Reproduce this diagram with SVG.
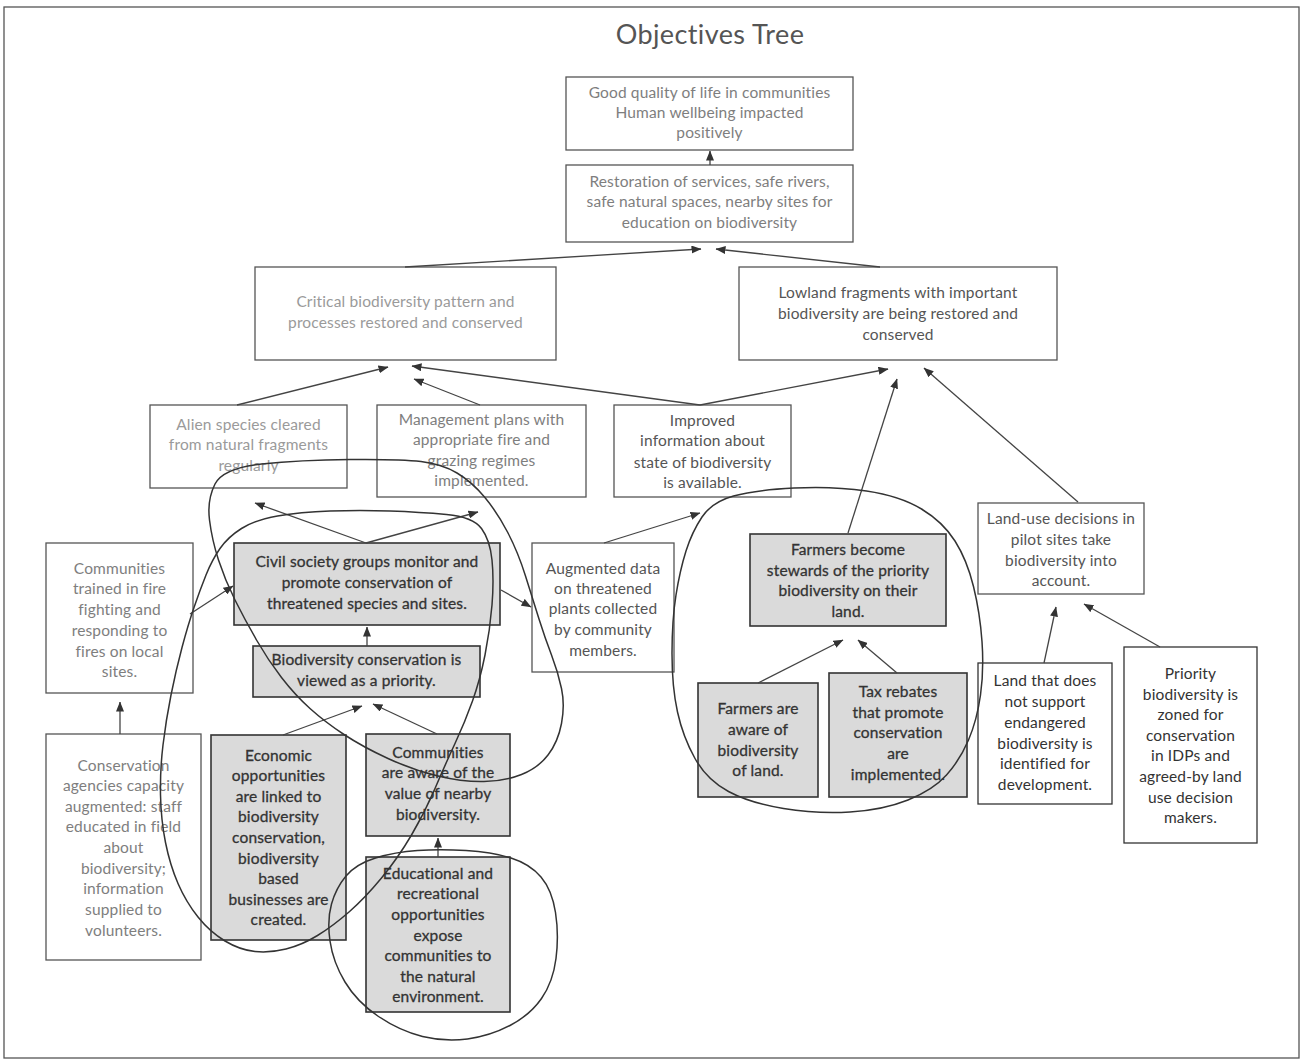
<svg xmlns="http://www.w3.org/2000/svg" width="1305" height="1063" viewBox="0 0 1305 1063">
  <style>
    text { font-family: Lato, "Liberation Sans", sans-serif; font-size: 15.5px; letter-spacing: 0.15px; text-anchor: middle; }
    .title { font-size: 27px; letter-spacing: 0.4px; fill: #555; }
    .box { fill: #fff; stroke: #555; stroke-width: 1.3; }
    .hl { fill: #dadada; stroke: #333; stroke-width: 1.6; }
    .t1 { fill: #9a9a9a; }
    .t2 { fill: #7e7e7e; }
    .t3 { fill: #555; }
    .t4 { fill: #333; stroke: #333; stroke-width: 0.3; }
    .edge { stroke: #444; stroke-width: 1.3; fill: none; marker-end: url(#ah); }
    .loop { stroke: #333; stroke-width: 1.5; fill: none; }
  </style>
  <defs>
    <marker id="ah" markerWidth="10" markerHeight="8" refX="9.5" refY="4" orient="auto" markerUnits="userSpaceOnUse">
      <path d="M0,0 L10,4 L0,8 z" fill="#333"/>
    </marker>
  </defs>

  <rect x="0" y="0" width="1305" height="1063" fill="#fff"/>
  <rect x="4" y="7" width="1295" height="1051" fill="none" stroke="#555" stroke-width="1.3"/>

  <text class="title" x="710" y="44">Objectives Tree</text>

  <g id="node-quality-of-life">
    <rect class="box" x="566" y="77" width="287" height="73"/>
    <text class="t2"><tspan x="709.5" y="98">Good quality of life in communities</tspan><tspan x="709.5" y="118">Human wellbeing impacted</tspan><tspan x="709.5" y="138">positively</tspan></text>
  </g>
  <g id="node-restoration">
    <rect class="box" x="566" y="165" width="287" height="77"/>
    <text class="t2"><tspan x="709.5" y="187">Restoration of services, safe rivers,</tspan><tspan x="709.5" y="207">safe natural spaces, nearby sites for</tspan><tspan x="709.5" y="228">education on biodiversity</tspan></text>
  </g>
  <g id="node-critical-biodiversity">
    <rect class="box" x="255" y="267" width="301" height="93"/>
    <text class="t1"><tspan x="405.5" y="307">Critical biodiversity pattern and</tspan><tspan x="405.5" y="328">processes restored and conserved</tspan></text>
  </g>
  <g id="node-lowland-fragments">
    <rect class="box" x="739" y="267" width="318" height="93"/>
    <text class="t3"><tspan x="898" y="298">Lowland fragments with important</tspan><tspan x="898" y="319">biodiversity are being restored and</tspan><tspan x="898" y="340">conserved</tspan></text>
  </g>
  <g id="node-alien-species">
    <rect class="box" x="150" y="405" width="197" height="83"/>
    <text class="t1"><tspan x="248.5" y="430">Alien species cleared</tspan><tspan x="248.5" y="450">from natural fragments</tspan><tspan x="248.5" y="471">regularly</tspan></text>
  </g>
  <g id="node-management-plans">
    <rect class="box" x="377" y="405" width="209" height="92"/>
    <text class="t2"><tspan x="481.5" y="425">Management plans with</tspan><tspan x="481.5" y="445">appropriate fire and</tspan><tspan x="481.5" y="466">grazing regimes</tspan><tspan x="481.5" y="486">implemented.</tspan></text>
  </g>
  <g id="node-improved-information">
    <rect class="box" x="614" y="405" width="177" height="92"/>
    <text class="t3"><tspan x="702.5" y="426">Improved</tspan><tspan x="702.5" y="446">information about</tspan><tspan x="702.5" y="468">state of biodiversity</tspan><tspan x="702.5" y="488">is available.</tspan></text>
  </g>
  <g id="node-fire-training">
    <rect class="box" x="46" y="543" width="147" height="150"/>
    <text class="t2"><tspan x="119.5" y="574">Communities</tspan><tspan x="119.5" y="594">trained in fire</tspan><tspan x="119.5" y="615">fighting and</tspan><tspan x="119.5" y="636">responding to</tspan><tspan x="119.5" y="657">fires on local</tspan><tspan x="119.5" y="677">sites.</tspan></text>
  </g>
  <g id="node-civil-society">
    <rect class="hl" x="234" y="543" width="266" height="82"/>
    <text class="t4"><tspan x="367" y="567">Civil society groups monitor and</tspan><tspan x="367" y="588">promote conservation of</tspan><tspan x="367" y="609">threatened species and sites.</tspan></text>
  </g>
  <g id="node-priority">
    <rect class="hl" x="253" y="646" width="227" height="51"/>
    <text class="t4"><tspan x="366.5" y="665">Biodiversity conservation is</tspan><tspan x="366.5" y="686">viewed as a priority.</tspan></text>
  </g>
  <g id="node-augmented-data">
    <rect class="box" x="532" y="543" width="142" height="129"/>
    <text class="t3"><tspan x="603" y="574">Augmented data</tspan><tspan x="603" y="594">on threatened</tspan><tspan x="603" y="614">plants collected</tspan><tspan x="603" y="635">by community</tspan><tspan x="603" y="656">members.</tspan></text>
  </g>
  <g id="node-farmer-stewards">
    <rect class="hl" x="750" y="534" width="196" height="92"/>
    <text class="t4"><tspan x="848" y="555">Farmers become</tspan><tspan x="848" y="576">stewards of the priority</tspan><tspan x="848" y="596">biodiversity on their</tspan><tspan x="848" y="617">land.</tspan></text>
  </g>
  <g id="node-land-use-decisions">
    <rect class="box" x="978" y="503" width="166" height="91"/>
    <text class="t3"><tspan x="1061" y="524">Land-use decisions in</tspan><tspan x="1061" y="545">pilot sites take</tspan><tspan x="1061" y="566">biodiversity into</tspan><tspan x="1061" y="586">account.</tspan></text>
  </g>
  <g id="node-agency-capacity">
    <rect class="box" x="46" y="734" width="155" height="226"/>
    <text class="t2"><tspan x="123.5" y="771">Conservation</tspan><tspan x="123.5" y="791">agencies capacity</tspan><tspan x="123.5" y="812">augmented: staff</tspan><tspan x="123.5" y="832">educated in field</tspan><tspan x="123.5" y="853">about</tspan><tspan x="123.5" y="874">biodiversity;</tspan><tspan x="123.5" y="894">information</tspan><tspan x="123.5" y="915">supplied to</tspan><tspan x="123.5" y="936">volunteers.</tspan></text>
  </g>
  <g id="node-economic-opportunities">
    <rect class="hl" x="211" y="735" width="135" height="205"/>
    <text class="t4"><tspan x="278.5" y="761">Economic</tspan><tspan x="278.5" y="781">opportunities</tspan><tspan x="278.5" y="802">are linked to</tspan><tspan x="278.5" y="822">biodiversity</tspan><tspan x="278.5" y="843">conservation,</tspan><tspan x="278.5" y="864">biodiversity</tspan><tspan x="278.5" y="884">based</tspan><tspan x="278.5" y="905">businesses are</tspan><tspan x="278.5" y="925">created.</tspan></text>
  </g>
  <g id="node-community-awareness">
    <rect class="hl" x="366" y="734" width="144" height="102"/>
    <text class="t4"><tspan x="438" y="758">Communities</tspan><tspan x="438" y="778">are aware of the</tspan><tspan x="438" y="799">value of nearby</tspan><tspan x="438" y="820">biodiversity.</tspan></text>
  </g>
  <g id="node-education">
    <rect class="hl" x="366" y="857" width="144" height="155"/>
    <text class="t4"><tspan x="438" y="879">Educational and</tspan><tspan x="438" y="899">recreational</tspan><tspan x="438" y="920">opportunities</tspan><tspan x="438" y="941">expose</tspan><tspan x="438" y="961">communities to</tspan><tspan x="438" y="982">the natural</tspan><tspan x="438" y="1002">environment.</tspan></text>
  </g>
  <g id="node-farmer-awareness">
    <rect class="hl" x="698" y="683" width="120" height="114"/>
    <text class="t4"><tspan x="758" y="714">Farmers are</tspan><tspan x="758" y="735">aware of</tspan><tspan x="758" y="756">biodiversity</tspan><tspan x="758" y="776">of land.</tspan></text>
  </g>
  <g id="node-tax-rebates">
    <rect class="hl" x="829" y="673" width="138" height="124"/>
    <text class="t4"><tspan x="898" y="697">Tax rebates</tspan><tspan x="898" y="718">that promote</tspan><tspan x="898" y="738">conservation</tspan><tspan x="898" y="759">are</tspan><tspan x="898" y="780">implemented.</tspan></text>
  </g>
  <g id="node-development-land">
    <rect class="box" x="978" y="663" width="134" height="141" style="stroke:#333"/>
    <text class="t4" style="stroke:none"><tspan x="1045" y="686">Land that does</tspan><tspan x="1045" y="707">not support</tspan><tspan x="1045" y="728">endangered</tspan><tspan x="1045" y="749">biodiversity is</tspan><tspan x="1045" y="769">identified for</tspan><tspan x="1045" y="790">development.</tspan></text>
  </g>
  <g id="node-zoning">
    <rect class="box" x="1124" y="647" width="133" height="196" style="stroke:#333"/>
    <text class="t4" style="stroke:none"><tspan x="1190.5" y="679">Priority</tspan><tspan x="1190.5" y="700">biodiversity is</tspan><tspan x="1190.5" y="720">zoned for</tspan><tspan x="1190.5" y="741">conservation</tspan><tspan x="1190.5" y="761">in IDPs and</tspan><tspan x="1190.5" y="782">agreed-by land</tspan><tspan x="1190.5" y="803">use decision</tspan><tspan x="1190.5" y="823">makers.</tspan></text>
  </g>

  <g id="connectors">
    <path class="edge" d="M710,165 L710,151"/>
    <path class="edge" d="M405,267 L701,249"/>
    <path class="edge" d="M880,267 L716,249"/>
    <path class="edge" d="M237,405 L388,367"/>
    <path class="edge" d="M480,405 L414,379"/>
    <path class="edge" d="M700,405 L412,366"/>
    <path class="edge" d="M700,405 L888,369"/>
    <path class="edge" d="M848,533 L897,379"/>
    <path class="edge" d="M1078,502 L924,368"/>
    <path class="edge" d="M366,543 L255,503"/>
    <path class="edge" d="M366,543 L478,512"/>
    <path class="edge" d="M190,614 L233,586"/>
    <path class="edge" d="M501,590 L531,607"/>
    <path class="edge" d="M604,543 L700,513"/>
    <path class="edge" d="M367,646 L367,627"/>
    <path class="edge" d="M120,734 L120,702"/>
    <path class="edge" d="M283,735 L362,706"/>
    <path class="edge" d="M437,734 L373,704"/>
    <path class="edge" d="M438,857 L438,838"/>
    <path class="edge" d="M758,683 L843,640"/>
    <path class="edge" d="M897,673 L858,640"/>
    <path class="edge" d="M1044,663 L1056,607"/>
    <path class="edge" d="M1160,647 L1084,604"/>
  </g>

  <g id="grouping-loops">
    <path class="loop" d="M215,484 Q223,468 261.5,464 Q300,460 350,459.5 Q400,459 421,461.5 Q442,464 457,473 Q472,482 484.5,497 Q497,512 507.5,532 Q518,552 525.5,576 Q533,600 539,619 Q545,638 551.5,655 Q558,672 561.5,688.5 Q565,705 561.5,723.5 Q558,742 548,755 Q538,768 521.5,774.5 Q505,781 484,781.5 Q463,782 438,776 Q413,770 388,758.5 Q363,747 344,734.5 Q325,722 310,708.5 Q295,695 281.5,677.5 Q268,660 256.5,640 Q245,620 235,600 Q225,580 218.5,560 Q212,540 209.5,520 Q207,500 215,484 Z"/>
    <path class="loop" d="M481.5,528.5 Q473,517 446.5,514.5 Q420,512 390,511 Q360,510 330,511 Q300,512 277.5,516 Q255,520 241.5,528.5 Q228,537 220,548.5 Q212,560 206,575 Q200,590 194,607.5 Q188,625 182,647.5 Q176,670 171,695 Q166,720 163,745 Q160,770 160.5,795 Q161,820 165.5,842.5 Q170,865 178,883.5 Q186,902 198,917 Q210,932 225,941 Q240,950 255,951.5 Q270,953 286,949 Q302,945 317.5,935.5 Q333,926 349,912 Q365,898 381.5,878 Q398,858 411.5,835 Q425,812 435,788.5 Q445,765 455,743.5 Q465,722 472.5,701 Q480,680 485,655 Q490,630 492,605 Q494,580 492,560 Q490,540 481.5,528.5 Z"/>
    <path class="loop" d="M417.5,850.5 Q440,849 466,850.5 Q492,852 511,858 Q530,864 541,877 Q552,890 555.5,912.5 Q559,935 556,958.5 Q553,982 541.5,998.5 Q530,1015 510,1025.5 Q490,1036 467.5,1039 Q445,1042 422.5,1036.5 Q400,1031 378.5,1016.5 Q357,1002 345,982 Q333,962 330,941 Q327,920 331.5,904 Q336,888 346,876 Q356,864 375.5,858 Q395,852 417.5,850.5 Z"/>
    <path class="loop" d="M702,517 Q712,502 733.5,496 Q755,490 794,488 Q833,486 866.5,491 Q900,496 921.5,509 Q943,522 955,541 Q967,560 973.5,586.5 Q980,613 982,641.5 Q984,670 980.5,695 Q977,720 968.5,740 Q960,760 946.5,775 Q933,790 908,800 Q883,810 850,812 Q817,814 783.5,808.5 Q750,803 728.5,791.5 Q707,780 695,758.5 Q683,737 677.5,712 Q672,687 672,653.5 Q672,620 676,595 Q680,570 686,551 Q692,532 702,517 Z"/>
  </g>
</svg>
